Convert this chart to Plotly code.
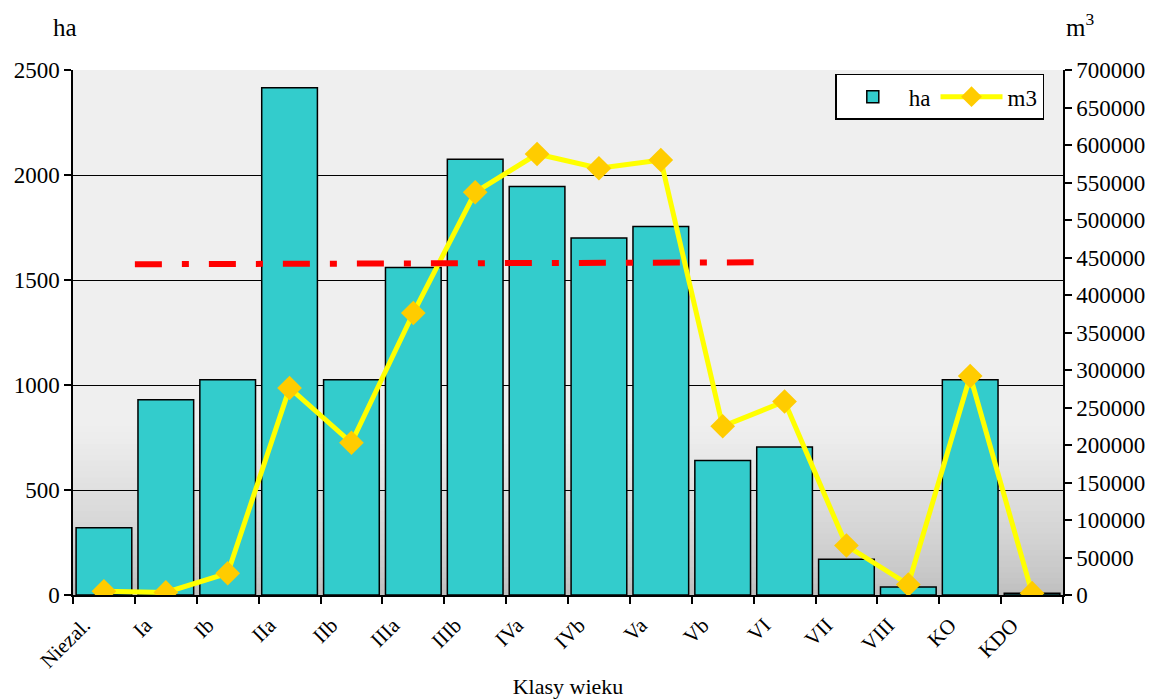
import plotly.graph_objects as go

categories = ["Niezal.", "Ia", "Ib", "IIa", "IIb", "IIIa", "IIIb", "IVa", "IVb",
              "Va", "Vb", "VI", "VII", "VIII", "KO", "KDO"]
ha_values = [320, 930, 1025, 2415, 1025, 1560, 2075, 1945, 1700, 1755,
             640, 705, 170, 38, 1025, 8]
m3_values = [5000, 3500, 29000, 276000, 203000, 376000, 537000, 588000, 569000,
             580000, 225000, 258000, 66000, 14000, 292000, 2500]
# dash-dot reference line (ha scale): start/end category boundaries and levels
ref_x = [0.5, 10.5]
ref_ha = [1575, 1584]

left_ticks = [0, 500, 1000, 1500, 2000, 2500]
right_ticks = list(range(0, 700001, 50000))

idx = list(range(len(categories)))
bounds = [i - 0.5 for i in range(len(categories) + 1)]

FONT = "Liberation Serif, Times New Roman, serif"

fig = go.Figure()
fig.add_trace(go.Bar(
    x=idx, y=ha_values, name="ha", yaxis="y",
    marker=dict(color="#33cccc", line=dict(color="black", width=1.5)),
    width=0.9,
))
fig.add_trace(go.Scatter(
    x=idx, y=m3_values, name="m3", yaxis="y2", mode="lines+markers",
    line=dict(color="#ffff00", width=5),
    marker=dict(symbol="diamond", size=19, color="#ffcc00"),
))
fig.add_trace(go.Scatter(
    x=ref_x, y=ref_ha, yaxis="y3", mode="lines", showlegend=False,
    line=dict(color="#ff0000", width=6, dash="27px,20px,7px,20px"),
    hoverinfo="skip",
))

# gradient background (style only)
shapes = []
n = 30
top_frac = 0.32
c_top = 239
c_bot = 190
for k in range(n):
    f0 = top_frac * k / n
    f1 = top_frac * (k + 1) / n
    t = (k + 0.5) / n
    c = int(round(c_bot + (c_top - c_bot) * t ** 0.8))
    shapes.append(dict(type="rect", xref="x domain", yref="y domain",
                       x0=0, x1=1, y0=f0, y1=f1 + 0.002, layer="below",
                       fillcolor=f"rgb({c},{c},{c})", line=dict(width=0)))

fig.update_layout(
    width=1151, height=691,
    margin=dict(l=64.5, r=96, t=61.5, b=104),
    paper_bgcolor="white", plot_bgcolor="#efefef",
    font=dict(family=FONT, size=22, color="black"),
    showlegend=True,
    bargap=0.1,
    shapes=shapes,
    xaxis=dict(
        range=[-0.5, len(categories) - 0.5], tickmode="array",
        tickvals=idx, ticktext=categories, tickangle=-45, ticks="",
        showgrid=False, zeroline=False, showline=True, linecolor="black",
        linewidth=1.5, mirror=False, automargin=False,
        ticklabelshift=-20, ticklabelstandoff=8,
        minor=dict(tickmode="array", tickvals=bounds, ticks="outside",
                   ticklen=7, tickwidth=1.5, tickcolor="black", showgrid=False),
        tickfont=dict(size=21),
        title=dict(text="Klasy wieku", font=dict(size=22), standoff=8),
    ),
    yaxis=dict(
        range=[0, 2500], tickvals=left_ticks, ticks="outside", ticklen=7,
        tickwidth=1.5, tickcolor="black", showgrid=True, gridcolor="black",
        gridwidth=1.2, zeroline=False, showline=True, linecolor="black",
        linewidth=1.5, tickfont=dict(size=23), automargin=False,
    ),
    yaxis2=dict(
        range=[0, 700000], tickvals=right_ticks, overlaying="y", side="right",
        ticks="outside", ticklen=7, tickwidth=1.5, tickcolor="black",
        tickformat="d", showgrid=False, zeroline=False, showline=True,
        linecolor="black", linewidth=1.5, tickfont=dict(size=23),
        automargin=False,
    ),
    yaxis3=dict(range=[0, 2500], overlaying="y", visible=False),
    legend=dict(
        orientation="h", x=0.77, y=0.993, xanchor="left", yanchor="top",
        bgcolor="white", bordercolor="black", borderwidth=1.5,
        font=dict(size=23), itemwidth=62,
    ),
    annotations=[
        dict(text="ha", xref="paper", yref="paper", x=-0.008, y=1.081,
             xanchor="center", yanchor="middle", showarrow=False,
             font=dict(size=25)),
        dict(text="m<sup>3</sup>", xref="paper", yref="paper", x=1.017, y=1.085,
             xanchor="center", yanchor="middle", showarrow=False,
             font=dict(size=25)),
    ],
)

fig.write_html("out.html")
